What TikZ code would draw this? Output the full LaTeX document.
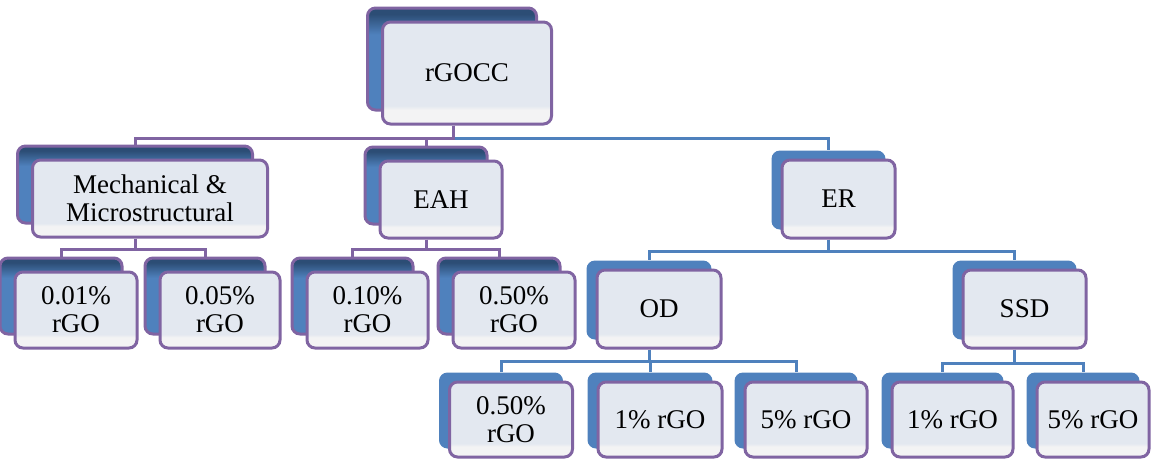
\documentclass[tikz,border=0pt]{standalone}
\usepackage{fontspec}
\setmainfont{Liberation Serif}
\usepackage{tikz}
\usetikzlibrary{shadows}
\usetikzlibrary{backgrounds}
\definecolor{orgblue}{HTML}{4F81BD}
\definecolor{orgdark}{HTML}{2C4D75}
\definecolor{orgpurple}{HTML}{8064A2}
\definecolor{boxfill}{HTML}{E3E8F0}
\definecolor{boxband}{HTML}{F3F3F4}
\pgfdeclareverticalshading{boxshade}{100bp}{color(0bp)=(boxband); color(32bp)=(boxband); color(34bp)=(boxfill); color(100bp)=(boxfill)}
\pgfdeclareverticalshading{backshade}{100bp}{color(0bp)=(orgblue); color(62bp)=(orgblue); color(72bp)=(orgdark); color(100bp)=(orgdark)}
\tikzset{
    orgbox/.style={
    shade, shading=boxshade,
    draw=orgpurple,
    line width=3pt,
    rounded corners=8pt,
    align=center,
    inner sep=2pt,
    font=\fontsize{27}{28}\selectfont
    },
    purplebox/.style={orgbox,
    general shadow={shadow xshift=-15pt, shadow yshift=14pt, shade, shading=backshade, draw=orgpurple, line width=3pt}},
    bluebox/.style={orgbox,
    general shadow={shadow xshift=-10pt, shadow yshift=9pt, fill=orgblue, draw=orgblue, line width=1pt}},
    purpleline/.style={draw=orgpurple, line width=3pt},
    blueline/.style={draw=orgblue, line width=3pt}
}
\begin{document}
\begin{tikzpicture}[x=1pt,y=-1pt]
\useasboundingbox (0,0) rectangle (1152,459);
% top and first level
\node[purplebox, minimum width=169pt, minimum height=102pt] (rgocc) at (467,73) {rGOCC};
\node[purplebox, minimum width=235pt, minimum height=77pt] (mech) at (150,198.5) {Mechanical \&\\Microstructural};
\node[purplebox, minimum width=122pt, minimum height=77pt] (eah) at (441,199.5) {EAH};
\node[bluebox, minimum width=113pt, minimum height=78pt] (er) at (838.5,199) {ER};
% second level
\node[purplebox, minimum width=122pt, minimum height=76pt] (mlow) at (76,310) {0.01\%\\rGO};
\node[purplebox, minimum width=120pt, minimum height=76pt] (mhigh) at (220,310) {0.05\%\\rGO};
\node[purplebox, minimum width=121pt, minimum height=76pt] (elow) at (367.5,310) {0.10\%\\rGO};
\node[purplebox, minimum width=122pt, minimum height=76pt] (ehigh) at (514,310) {0.50\%\\rGO};
\node[bluebox, minimum width=124pt, minimum height=78pt] (od) at (659,309) {OD};
\node[bluebox, minimum width=123pt, minimum height=78pt] (ssd) at (1024.5,309) {SSD};
% third level
\node[bluebox, minimum width=123pt, minimum height=75pt] (odhalf) at (511,419.5) {0.50\%\\rGO};
\node[bluebox, minimum width=124pt, minimum height=75pt] (odone) at (660,419.5) {1\% rGO};
\node[bluebox, minimum width=122pt, minimum height=75pt] (odfive) at (806,419.5) {5\% rGO};
\node[bluebox, minimum width=121pt, minimum height=75pt] (ssdone) at (952.5,419.5) {1\% rGO};
\node[bluebox, minimum width=112pt, minimum height=75pt] (ssdfive) at (1093,419.5) {5\% rGO};
% connectors
\begin{scope}[on background layer]
\draw[blueline] ([xshift=-14pt]rgocc.south) -- ++(0,13) -| ([shift={(-10pt,9pt)}]er.north);
\foreach \c in {od,ssd}
  \draw[blueline] ([xshift=-10pt]er.south) -- ++(0,12) -| ([shift={(-10pt,9pt)}]\c.north);
\foreach \c in {odhalf,odone,odfive}
  \draw[blueline] ([xshift=-10pt]od.south) -- ++(0,12) -| ([shift={(-10pt,9pt)}]\c.north);
\foreach \c in {ssdone,ssdfive}
  \draw[blueline] ([xshift=-10pt]ssd.south) -- ++(0,14) -| ([shift={(-10pt,9pt)}]\c.north);
\foreach \c in {mech,eah}
  \draw[purpleline] ([xshift=-14pt]rgocc.south) -- ++(0,13) -| ([shift={(-15pt,14pt)}]\c.north);
\foreach \c in {mlow,mhigh}
  \draw[purpleline] ([xshift=-15pt]mech.south) -- ++(0,11) -| ([shift={(-15pt,14pt)}]\c.north);
\foreach \c in {elow,ehigh}
  \draw[purpleline] ([xshift=-15pt]eah.south) -- ++(0,10) -| ([shift={(-15pt,14pt)}]\c.north);
\end{scope}
\end{tikzpicture}
\end{document}
